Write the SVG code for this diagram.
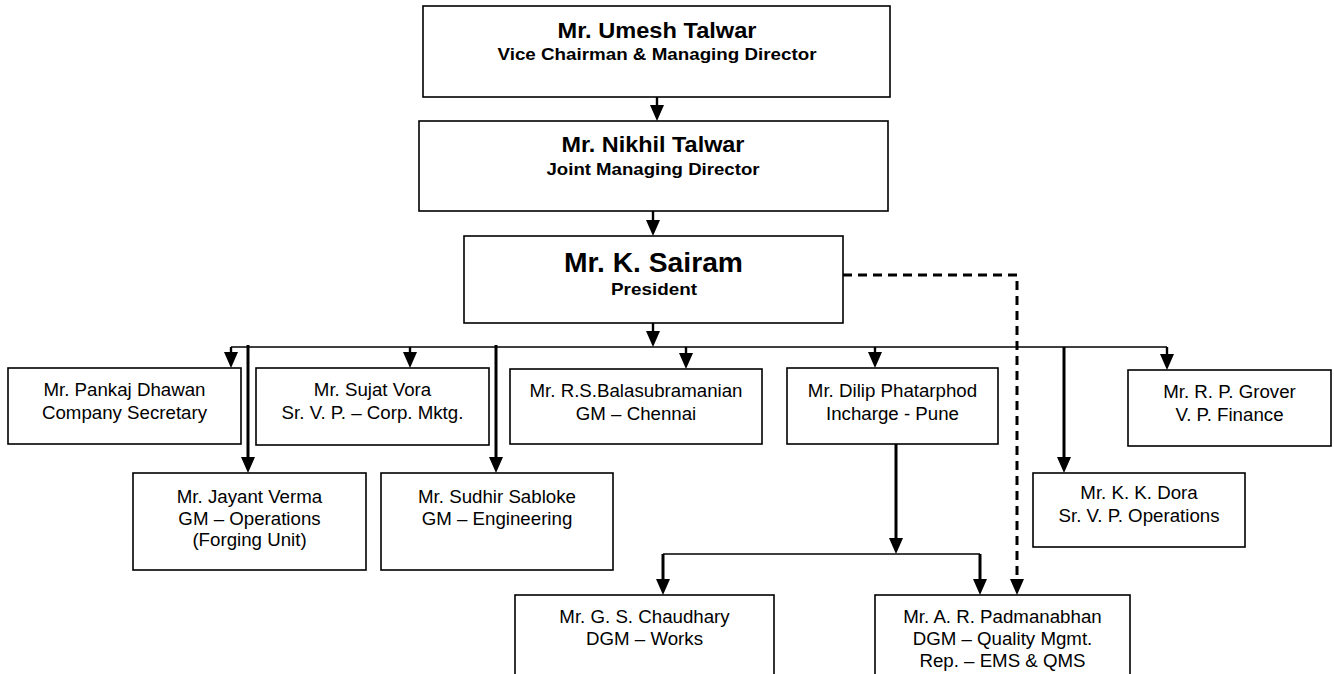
<svg xmlns="http://www.w3.org/2000/svg" width="1334" height="674" viewBox="0 0 1334 674">
<defs>
<style>
.box{fill:#fff;stroke:#000;stroke-width:1.6}
.t{font-family:"Liberation Sans",Arial,Helvetica,sans-serif;font-size:18.7px;fill:#000;text-anchor:middle}
.b{font-family:"Liberation Sans",Arial,Helvetica,sans-serif;font-weight:bold;fill:#000;text-anchor:middle}
.thin{stroke:#000;stroke-width:1.6;fill:none}
.med{stroke:#000;stroke-width:2.4;fill:none}
.thick{stroke:#000;stroke-width:3;fill:none}
.dash{stroke:#000;stroke-width:3;fill:none;stroke-dasharray:9 6}
</style>
<marker id="ah" markerUnits="userSpaceOnUse" markerWidth="16" markerHeight="14" refX="8" refY="7" orient="auto" viewBox="0 0 16 14">
<path d="M0,0 L16,7 L0,14 z" fill="#000"/>
</marker>
</defs>
<rect width="1334" height="674" fill="#fff"/>

<g id="connectors">
<line class="med" x1="657" y1="97" x2="657" y2="113" marker-end="url(#ah)"/>
<line class="med" x1="653" y1="211" x2="653" y2="228" marker-end="url(#ah)"/>
<line class="med" x1="653" y1="323" x2="653" y2="339" marker-end="url(#ah)"/>
<line class="thin" x1="231" y1="347" x2="1167" y2="347"/>
<line class="med" x1="231" y1="347" x2="231" y2="360" marker-end="url(#ah)"/>
<line class="med" x1="410" y1="347" x2="410" y2="360" marker-end="url(#ah)"/>
<line class="med" x1="686" y1="347" x2="686" y2="361" marker-end="url(#ah)"/>
<line class="med" x1="875" y1="347" x2="875" y2="360" marker-end="url(#ah)"/>
<line class="med" x1="1167" y1="347" x2="1167" y2="362" marker-end="url(#ah)"/>
<line class="thick" x1="248" y1="345" x2="248" y2="465" marker-end="url(#ah)"/>
<line class="thick" x1="496" y1="345" x2="496" y2="465" marker-end="url(#ah)"/>
<line class="thick" x1="1064" y1="347" x2="1064" y2="465" marker-end="url(#ah)"/>
<path class="dash" d="M843,275 H1017 V587" marker-end="url(#ah)"/>
<line class="thick" x1="896" y1="444" x2="896" y2="546" marker-end="url(#ah)"/>
<line class="thin" x1="663" y1="554" x2="980" y2="554"/>
<line class="thick" x1="663" y1="554" x2="663" y2="587" marker-end="url(#ah)"/>
<line class="thick" x1="980" y1="554" x2="980" y2="587" marker-end="url(#ah)"/>
</g>

<g id="node-umesh">
<rect class="box" x="423" y="6" width="467" height="91"/>
<text class="b" x="657" y="38" font-size="21.5" textLength="199" lengthAdjust="spacingAndGlyphs">Mr. Umesh Talwar</text>
<text class="b" x="657" y="60" font-size="17" textLength="319" lengthAdjust="spacingAndGlyphs">Vice Chairman &amp; Managing Director</text>
</g>

<g id="node-nikhil">
<rect class="box" x="419" y="121" width="469" height="90"/>
<text class="b" x="653" y="152" font-size="21.5" textLength="183" lengthAdjust="spacingAndGlyphs">Mr. Nikhil Talwar</text>
<text class="b" x="653" y="175" font-size="17" textLength="213" lengthAdjust="spacingAndGlyphs">Joint Managing Director</text>
</g>

<g id="node-sairam">
<rect class="box" x="464" y="236" width="379" height="87"/>
<text class="b" x="653.5" y="272" font-size="27" textLength="179" lengthAdjust="spacingAndGlyphs">Mr. K. Sairam</text>
<text class="b" x="654" y="295" font-size="17" textLength="86" lengthAdjust="spacingAndGlyphs">President</text>
</g>

<g id="node-pankaj">
<rect class="box" x="8" y="368" width="233" height="76"/>
<text class="t" x="124.5" y="396">Mr. Pankaj Dhawan</text>
<text class="t" x="124.5" y="419">Company Secretary</text>
</g>

<g id="node-sujat">
<rect class="box" x="256" y="368" width="233" height="77"/>
<text class="t" x="372.5" y="396">Mr. Sujat Vora</text>
<text class="t" x="372.5" y="419">Sr. V. P. – Corp. Mktg.</text>
</g>

<g id="node-bala">
<rect class="box" x="510" y="369" width="252" height="75"/>
<text class="t" x="636" y="397">Mr. R.S.Balasubramanian</text>
<text class="t" x="636" y="420">GM – Chennai</text>
</g>

<g id="node-dilip">
<rect class="box" x="787" y="368" width="211" height="76"/>
<text class="t" x="892.5" y="397">Mr. Dilip Phatarphod</text>
<text class="t" x="892.5" y="420">Incharge - Pune</text>
</g>

<g id="node-grover">
<rect class="box" x="1128" y="370" width="203" height="76"/>
<text class="t" x="1229.5" y="398">Mr. R. P. Grover</text>
<text class="t" x="1229.5" y="421">V. P. Finance</text>
</g>

<g id="node-jayant">
<rect class="box" x="133" y="473" width="233" height="97"/>
<text class="t" x="249.5" y="503">Mr. Jayant Verma</text>
<text class="t" x="249.5" y="524.5">GM – Operations</text>
<text class="t" x="249.5" y="546">(Forging Unit)</text>
</g>

<g id="node-sudhir">
<rect class="box" x="381" y="473" width="232" height="97"/>
<text class="t" x="497" y="503">Mr. Sudhir Sabloke</text>
<text class="t" x="497" y="524.5">GM – Engineering</text>
</g>

<g id="node-dora">
<rect class="box" x="1033" y="473" width="212" height="74"/>
<text class="t" x="1139" y="499">Mr. K. K. Dora</text>
<text class="t" x="1139" y="522">Sr. V. P. Operations</text>
</g>

<g id="node-chaudhary">
<rect class="box" x="515" y="595" width="259" height="100"/>
<text class="t" x="644.5" y="623">Mr. G. S. Chaudhary</text>
<text class="t" x="644.5" y="645">DGM – Works</text>
</g>

<g id="node-padmanabhan">
<rect class="box" x="875" y="595" width="255" height="100"/>
<text class="t" x="1002.5" y="623">Mr. A. R. Padmanabhan</text>
<text class="t" x="1002.5" y="645">DGM – Quality Mgmt.</text>
<text class="t" x="1002.5" y="667">Rep. – EMS &amp; QMS</text>
</g>
</svg>
